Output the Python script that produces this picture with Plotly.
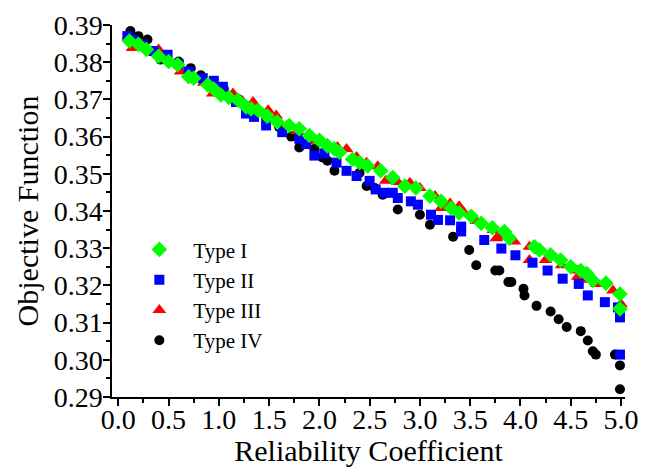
import plotly.graph_objects as go

# Type I (green diamonds)
x1 = [0.11, 0.20, 0.28, 0.40, 0.50, 0.59, 0.70, 0.75, 0.89, 0.95, 1.02, 1.10, 1.19, 1.27, 1.32, 1.39,
      1.48, 1.58, 1.70, 1.80, 1.90, 2.00, 2.08, 2.15, 2.20, 2.33, 2.40, 2.48, 2.61, 2.73, 2.85, 2.96,
      3.10, 3.21, 3.31, 3.39, 3.51, 3.61, 3.72, 3.84, 3.89, 4.14, 4.19, 4.30, 4.40, 4.50, 4.60, 4.66,
      4.72, 4.85, 4.99, 4.99]
y1 = [0.3857, 0.3848, 0.3834, 0.3816, 0.3802, 0.3793, 0.3761, 0.3757, 0.3739, 0.3728, 0.3712, 0.3705,
      0.3698, 0.3680, 0.3675, 0.3671, 0.3655, 0.3639, 0.3630, 0.3621, 0.3603, 0.3590, 0.3575, 0.3567,
      0.3558, 0.3539, 0.3530, 0.3521, 0.3508, 0.3490, 0.3467, 0.3462, 0.3440, 0.3426, 0.3408, 0.3395,
      0.3386, 0.3367, 0.3355, 0.3345, 0.3327, 0.3304, 0.3295, 0.3282, 0.3268, 0.3250, 0.3240, 0.3232,
      0.3213, 0.3206, 0.3177, 0.3137]

# Type II (blue squares)
x2 = [0.09, 0.15, 0.24, 0.35, 0.49, 0.60, 0.70, 0.84, 0.95, 1.04, 1.17, 1.27, 1.35, 1.47, 1.63, 1.80,
      1.87, 1.95, 2.05, 2.17, 2.27, 2.37, 2.50, 2.56, 2.65, 2.73, 2.78, 2.91, 2.98, 3.11, 3.18, 3.30,
      3.41, 3.41, 3.64, 3.81, 3.95, 4.12, 4.27, 4.42, 4.58, 4.67, 4.84, 4.97, 4.99, 4.99]
y2 = [0.3870, 0.3860, 0.3848, 0.3830, 0.3820, 0.3795, 0.3775, 0.3757, 0.3750, 0.3734, 0.3693, 0.3662,
      0.3653, 0.3630, 0.3612, 0.3594, 0.3580, 0.3549, 0.3555, 0.3530, 0.3508, 0.3494, 0.3481, 0.3458,
      0.3449, 0.3449, 0.3435, 0.3426, 0.3417, 0.3390, 0.3376, 0.3375, 0.3358, 0.3345, 0.3322, 0.3299,
      0.3281, 0.3261, 0.3240, 0.3218, 0.3204, 0.3173, 0.3155, 0.3141, 0.3114, 0.3014]

# Type III (red triangles)
x3 = [0.10, 0.14, 0.22, 0.40, 0.50, 0.62, 0.72, 0.85, 0.94, 1.05, 1.14, 1.24, 1.34, 1.49, 1.57, 1.68,
      1.78, 1.97, 2.08, 2.18, 2.27, 2.37, 2.47, 2.58, 2.66, 2.78, 2.90, 3.00, 3.15, 3.21, 3.30, 3.39,
      3.44, 3.56, 3.73, 3.76, 3.79, 3.94, 4.09, 4.09, 4.25, 4.41, 4.57, 4.57, 4.68, 4.76, 4.92, 5.00]
y3 = [0.3870, 0.3838, 0.3850, 0.3834, 0.3810, 0.3775, 0.3770, 0.3745, 0.3716, 0.3725, 0.3716, 0.3693,
      0.3693, 0.3671, 0.3657, 0.3630, 0.3615, 0.3589, 0.3580, 0.3572, 0.3567, 0.3545, 0.3530, 0.3520,
      0.3481, 0.3478, 0.3476, 0.3462, 0.3440, 0.3408, 0.3420, 0.3413, 0.3395, 0.3373, 0.3349, 0.3327,
      0.3331, 0.3318, 0.3304, 0.3268, 0.3268, 0.3254, 0.3240, 0.3223, 0.3215, 0.3204, 0.3186, 0.3150]

# Type IV (black circles)
x4 = [0.12, 0.20, 0.29, 0.42, 0.60, 0.72, 0.82, 0.94, 1.05, 1.20, 1.30, 1.47, 1.60, 1.72, 1.80, 1.95,
      2.03, 2.08, 2.15, 2.40, 2.47, 2.55, 2.63, 2.78, 3.00, 3.10, 3.33, 3.49, 3.56, 3.75, 3.79, 3.88,
      3.91, 4.03, 4.04, 4.16, 4.30, 4.38, 4.46, 4.60, 4.67, 4.72, 4.75, 4.94, 4.99, 4.99]
y4 = [0.3884, 0.3870, 0.3861, 0.3807, 0.3802, 0.3784, 0.3765, 0.3748, 0.3728, 0.3700, 0.3680, 0.3648,
      0.3625, 0.3600, 0.3571, 0.3567, 0.3544, 0.3535, 0.3508, 0.3503, 0.3467, 0.3462, 0.3444, 0.3404,
      0.3390, 0.3363, 0.3331, 0.3295, 0.3254, 0.3240, 0.3240, 0.3209, 0.3209, 0.3191, 0.3173, 0.3145,
      0.3130, 0.3109, 0.3088, 0.3077, 0.3052, 0.3023, 0.3014, 0.3014, 0.2985, 0.2921]

x_ticks = [0.0, 0.5, 1.0, 1.5, 2.0, 2.5, 3.0, 3.5, 4.0, 4.5, 5.0]
y_ticks = [0.29, 0.30, 0.31, 0.32, 0.33, 0.34, 0.35, 0.36, 0.37, 0.38, 0.39]

FONT = "Liberation Serif, Times New Roman, serif"

fig = go.Figure()
series = [
    ("Type IV", x4, y4, "circle", 10, "#000000", 4),
    ("Type III", x3, y3, "triangle-up", 12, "#FF0000", 3),
    ("Type II", x2, y2, "square", 10, "#0000FF", 2),
    ("Type I", x1, y1, "diamond", 12, "#00FF00", 1),
]
for name, xs, ys, sym, sz, col, rank in series:
    fig.add_trace(go.Scatter(
        x=xs, y=ys, mode="markers", name=name, legendrank=rank,
        cliponaxis=False,
        marker=dict(symbol=sym, size=sz, color=col, line=dict(width=0)),
    ))

axis_common = dict(
    showline=True, linecolor="black", linewidth=1.5, mirror=False,
    showgrid=False, zeroline=False, automargin=False,
    ticks="outside", ticklen=7, tickwidth=1.5, tickcolor="black",
    tickfont=dict(family=FONT, size=28, color="black"),
)

fig.update_xaxes(
    range=[-0.063, 5.04], tickvals=x_ticks, ticktext=[f"{v:.1f}" for v in x_ticks],
    ticklabelstandoff=-10,
    minor=dict(ticks="outside", ticklen=4, tickwidth=1.5, tickcolor="black", dtick=0.25, tick0=0),
    title=dict(text="Reliability Coefficient", font=dict(family=FONT, size=30, color="black"), standoff=0),
    **axis_common,
)
fig.update_yaxes(
    range=[0.29, 0.39], tickvals=y_ticks, ticktext=[f"{v:.2f}" for v in y_ticks],
    ticklabelstandoff=-5,
    minor=dict(ticks="outside", ticklen=4, tickwidth=1.5, tickcolor="black", dtick=0.005, tick0=0.29),
    title=dict(text="Objective Function", font=dict(family=FONT, size=30, color="black"), standoff=6),
    **axis_common,
)

# body has an 8px default margin, so the figure is made 8px smaller and offset accordingly
fig.update_layout(
    width=645, height=459,
    margin=dict(l=104, r=28, t=17, b=70, pad=0),
    paper_bgcolor="white", plot_bgcolor="white",
    showlegend=True,
    legend=dict(
        x=0.026, y=0.451, xanchor="left", yanchor="top",
        traceorder="normal",
        font=dict(family=FONT, size=21, color="black"),
        bgcolor="rgba(0,0,0,0)", itemwidth=58,
    ),
)

fig.write_html("out.html")
